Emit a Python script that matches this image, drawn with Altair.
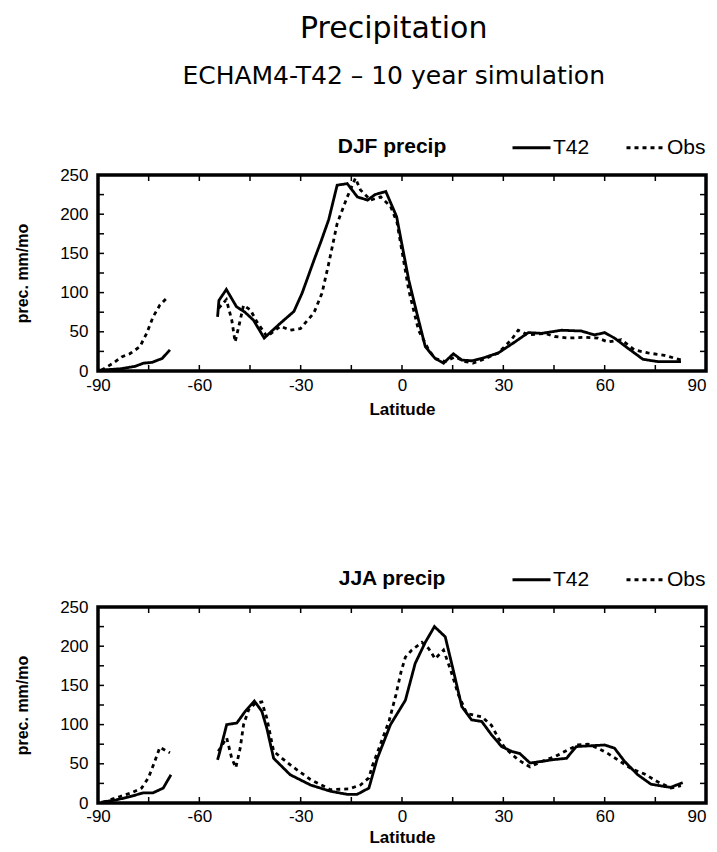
import altair as alt
import pandas as pd

# ---------------- data ----------------
# DJF, model T42
djf_t42_polar_lat = [-90, -86, -83, -79, -76.5, -74, -71, -68.7]
djf_t42_polar_val = [1, 2, 3, 6, 10, 11, 16, 27]
djf_t42_main_lat = [-54.6, -54.2, -52, -49, -46.5, -44, -40.8, -36, -32, -29.6, -26, -24,
                    -21.7, -19.2, -16.2, -13.2, -10.2, -8, -4.8, -1.6, 2, 4.5, 6.9, 9.8,
                    12.3, 15.2, 17.7, 20.6, 23.6, 28.5, 33.4, 37.4, 41.3, 44.3, 47.2, 53.1,
                    57, 60, 62.9, 66.9, 71.3, 75.7, 82.6]
djf_t42_main_val = [69, 90, 104, 82, 75, 65, 42, 61, 76, 99, 142, 165,
                    193, 237, 239, 222, 218, 225, 229, 197, 116, 72, 31, 16,
                    10, 22, 14, 13, 16, 23, 37, 49, 48, 50, 52, 51,
                    46, 49, 42, 29, 15, 12, 12]
# DJF, observations
djf_obs_polar_lat = [-89, -85.5, -83, -80.6, -77.6, -75.6, -73.7, -71.7, -69.2]
djf_obs_polar_val = [1, 10, 18, 22, 31, 48, 69, 84, 95]
djf_obs_main_lat = [-54.3, -52, -50.4, -49.4, -48.1, -46.9, -44.9, -43, -40, -36, -33.1,
                    -30.1, -26.1, -23.7, -21.7, -19.2, -16.2, -13.8, -12.3, -9.3, -6.3,
                    -3.4, -1.5, 2, 4.9, 7.9, 9.8, 12.8, 15.7, 18.7, 21.1, 23.6, 28.5,
                    32.4, 34.4, 37.4, 42.3, 45.2, 49.2, 54.1, 58, 61, 64.9, 68.8, 72.8,
                    77.7, 82.6]
djf_obs_main_val = [80, 91, 65, 37, 61, 84, 78, 63, 44, 57, 52,
                    54, 74, 99, 137, 188, 222, 246, 231, 218, 222,
                    210, 190, 103, 52, 27, 16, 12, 18, 12, 10, 14, 23,
                    40, 52, 46, 48, 44, 42, 43, 42, 37, 40, 27, 23,
                    20, 14]

# JJA, model T42
jja_t42_polar_lat = [-89, -84.6, -80.6, -76.6, -73.7, -70.7, -68.4]
jja_t42_polar_val = [1, 4, 8, 13, 13, 19, 36]
jja_t42_main_lat = [-54.6, -53.9, -51.9, -48.9, -46.4, -43.7, -41.5, -40, -38, -33.1,
                    -27.1, -21.2, -16.2, -13.3, -9.8, -7.3, -3.4, 1, 3.9, 6.9, 9.6,
                    12.8, 15.2, 17.7, 20.6, 23.6, 26.5, 29.5, 32.4, 34.9, 37.9, 41.3,
                    44.2, 48.7, 51.6, 56, 60, 62.9, 65.9, 69.8, 73.7, 77.7, 79.6, 83.1]
jja_t42_main_val = [55, 66, 100, 102, 117, 130, 117, 95, 57, 36,
                    23, 15, 11, 11, 19, 57, 100, 131, 178, 205, 225,
                    212, 169, 123, 106, 104, 87, 72, 66, 63, 51, 53,
                    55, 57, 72, 73, 74, 70, 53, 36, 24, 21, 20, 26]
# JJA, observations
jja_obs_polar_lat = [-88.5, -83.6, -80.1, -77.1, -75.1, -73.2, -71.7, -68.7]
jja_obs_polar_val = [1, 8, 13, 19, 32, 53, 71, 64]
jja_obs_main_lat = [-54.4, -51.9, -50.4, -49.2, -47.9, -46.9, -45.4, -43.5, -41.5, -40,
                    -38, -35.5, -32.6, -27.1, -21.2, -15.7, -12.3, -9.8, -8.8, -6.8,
                    -3.8, -1.8, -0.3, 1, 2.9, 5.9, 7.9, 9.8, 12.3, 14.3, 16.7, 19.2,
                    23.6, 26.5, 28.5, 30.5, 34.4, 37.9, 41.3, 45.2, 49.2, 52.1, 55.1,
                    58, 61, 63.9, 67.8, 71.8, 75.7, 79.6, 82.6]
jja_obs_main_val = [66, 83, 57, 45, 70, 100, 119, 127, 129, 108,
                    66, 57, 47, 30, 17, 18, 23, 32, 47, 70,
                    105, 138, 167, 186, 195, 205, 197, 184, 195, 171, 138, 114,
                    110, 99, 83, 70, 55, 46, 53, 59, 68, 74, 75,
                    70, 63, 55, 44, 37, 27, 19, 22]

series_names = ["T42", "Obs"]
x_tick_labels = [-90, -60, -30, 0, 30, 60, 90]
x_minor_ticks = [-90, -75, -60, -45, -30, -15, 0, 15, 30, 45, 60, 75, 90]
y_tick_labels = [0, 50, 100, 150, 200, 250]
y_minor_ticks = [0, 25, 50, 75, 100, 125, 150, 175, 200, 225, 250]

W, H = 608, 196
FONT = "Liberation Sans"


def build_frame(segments):
    rows = []
    for series, seg, lats, vals in segments:
        for la, va in zip(lats, vals):
            rows.append({"lat": la, "val": va, "series": series, "seg": f"{series}-{seg}"})
    return pd.DataFrame(rows)


def panel(title, df, xpad, xtpad):
    xs = alt.Scale(domain=[-90, 90], nice=False, zero=False)
    ys = alt.Scale(domain=[0, 250], nice=False)
    x_axis = alt.Axis(values=x_tick_labels, labelExpr="'' + datum.value",
                      labelAlign={"condition": {"test": "datum.value >= 90", "value": "right"},
                                  "value": "center"},
                      ticks=False, domain=False, grid=False, labelOverlap=False,
                      labelFlush=False, labelPadding=xpad, titlePadding=xtpad)
    y_axis = alt.Axis(values=y_tick_labels, labelExpr="'' + datum.value",
                      ticks=False, domain=False, grid=False, labelOverlap=False,
                      labelFlush=False, labelPadding=10, titlePadding=29)
    X = alt.X("lat:Q", scale=xs, title="Latitude", axis=x_axis)
    Y = alt.Y("val:Q", scale=ys, title="prec. mm/mo", axis=y_axis)
    lines = alt.Chart(df).mark_line(color="black", strokeWidth=2.8, strokeCap="butt").encode(
        x=X,
        y=Y,
        strokeDash=alt.StrokeDash(
            "series:N",
            scale=alt.Scale(domain=series_names, range=[[1, 0], [4, 4]]),
            legend=alt.Legend(title=None, orient="none", direction="horizontal",
                              legendX=413, legendY=-48, symbolType="stroke",
                              symbolSize=1444, symbolStrokeWidth=3,
                              symbolStrokeColor="black", labelFont=FONT,
                              labelFontSize=21, labelColor="black", labelOffset=1,
                              columnPadding=30, padding=0)),
        detail="seg:N",
    )
    xt = pd.DataFrame({"lat": x_minor_ticks})
    yt = pd.DataFrame({"val": y_minor_ticks})
    rule = dict(color="black", strokeWidth=1.5)
    tb = alt.Chart(xt).mark_rule(**rule).encode(x=X, y=alt.value(H), y2=alt.value(H - 6))
    tt = alt.Chart(xt).mark_rule(**rule).encode(x=X, y=alt.value(0), y2=alt.value(6))
    tl = alt.Chart(yt).mark_rule(**rule).encode(y=Y, x=alt.value(0), x2=alt.value(6))
    tr = alt.Chart(yt).mark_rule(**rule).encode(y=Y, x=alt.value(W), x2=alt.value(W - 6))
    return alt.layer(lines, tb, tt, tl, tr).properties(
        width=W, height=H,
        title=alt.TitleParams(title, font=FONT, fontSize=21, fontWeight="bold",
                              color="black", anchor="middle", dx=-10, offset=-30),
    )


djf = build_frame([
    ("T42", "polar", djf_t42_polar_lat, djf_t42_polar_val),
    ("T42", "main", djf_t42_main_lat, djf_t42_main_val),
    ("Obs", "polar", djf_obs_polar_lat, djf_obs_polar_val),
    ("Obs", "main", djf_obs_main_lat, djf_obs_main_val),
])
jja = build_frame([
    ("T42", "polar", jja_t42_polar_lat, jja_t42_polar_val),
    ("T42", "main", jja_t42_main_lat, jja_t42_main_val),
    ("Obs", "polar", jja_obs_polar_lat, jja_obs_polar_val),
    ("Obs", "main", jja_obs_main_lat, jja_obs_main_val),
])

chart = alt.vconcat(
    panel("DJF precip", djf, 6, 8),
    panel("JJA precip", jja, 5, 5),
    spacing=138,
).resolve_scale(strokeDash="independent").resolve_legend(strokeDash="independent").properties(
    title=alt.TitleParams("Precipitation", subtitle="ECHAM4-T42 \u2013 10 year simulation",
                          font="DejaVu Sans", fontSize=30, fontWeight="normal",
                          subtitleFont="DejaVu Sans", subtitleFontSize=25,
                          subtitlePadding=20, anchor="middle", dx=33, offset=36,
                          color="black", subtitleColor="black"),
    background="white",
    padding={"left": 4, "top": 6, "right": 0, "bottom": 0},
).configure_view(stroke="black", strokeWidth=3.5).configure_axis(
    labelFont=FONT, labelFontSize=17, labelColor="black",
    titleFont=FONT, titleFontSize=17, titleFontWeight="bold", titleColor="black",
).configure_axisY(titleFontSize=16)

chart.save("out.html", embed_options={"renderer": "svg", "actions": False})
